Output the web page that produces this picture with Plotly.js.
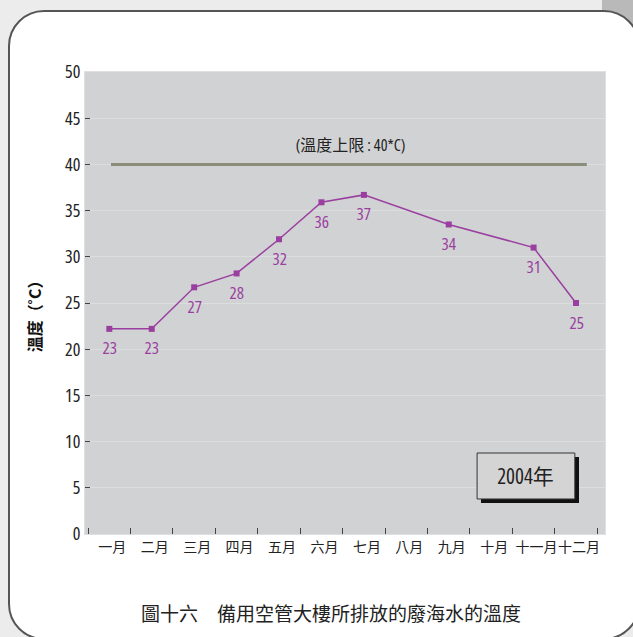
<!DOCTYPE html>
<html>
<head>
<meta charset="utf-8">
<script src="https://cdn.plot.ly/plotly-3.0.1.min.js"></script>
<style>
  html, body { margin: 0; padding: 0; }
  body { width: 633px; height: 637px; overflow: hidden; position: relative; background: #ececec; }
  #strip { position: absolute; left: 602px; top: 0; width: 31px; height: 120px; background: #b9b9b9; }
  #frame { position: absolute; left: 8px; top: 10px; width: 628px; height: 626px; border: 2.5px solid #555; border-radius: 36px; background: #ffffff; }
  #chart { position: absolute; left: 0; top: 0; width: 633px; height: 637px; }
  #chart text { font-stretch: 75%; }
</style>
</head>
<body>
<div id="strip"></div>
<div id="frame"></div>
<div id="chart"></div>
<script>
// ---- data ----
const months = ['一月','二月','三月','四月','五月','六月','七月','八月','九月','十月','十一月','十二月'];
const pointMonths = ['一月','二月','三月','四月','五月','六月','七月','九月','十一月','十二月'];
const temps = [22.2, 22.2, 26.7, 28.2, 31.9, 35.9, 36.7, 33.5, 31.0, 25.0];
const tempLabels = ['23','23','27','28','32','36','37','34','31','25'];
const limitTemp = 40;
const limitText = '(溫度上限 : 40*C)';
const yearText = '2004年';
const yTitle = '溫度（˚C）';
const caption = '圖十六　備用空管大樓所排放的廢海水的溫度';

const narrow = '"Open Sans", "Noto Sans CJK TC", sans-serif';
const cjk = '"Noto Sans CJK TC", sans-serif';
const purple = '#9a3f9f';

const trace = {
  x: pointMonths,
  y: temps,
  type: 'scatter',
  mode: 'lines+markers',
  line: { color: purple, width: 1.5 },
  marker: { symbol: 'square', size: 6, color: purple },
  hoverinfo: 'skip'
};

const annotations = pointMonths.map((m, i) => ({
  x: m, y: temps[i], xref: 'x', yref: 'y',
  text: tempLabels[i], showarrow: false, yshift: -19,
  xanchor: 'center', yanchor: 'middle',
  font: { family: narrow, size: 17, color: purple }
}));

annotations.push({
  x: 0.51, xref: 'paper', y: limitTemp + 2.1, yref: 'y',
  xanchor: 'center', yanchor: 'middle',
  text: limitText, showarrow: false,
  font: { family: narrow, size: 16, color: '#222' }
});
annotations.push({
  x: 0.848, y: 0.1255, xref: 'paper', yref: 'paper',
  xanchor: 'center', yanchor: 'middle',
  text: yearText, showarrow: false,
  font: { family: narrow, size: 21, color: '#222' }
});
annotations.push({
  x: -0.098, y: 0.48, xref: 'paper', yref: 'paper',
  xanchor: 'center', yanchor: 'middle',
  text: '<b>' + yTitle + '</b>', textangle: -90, showarrow: false,
  font: { family: cjk, size: 16, color: '#111' }
});
annotations.push({
  x: 0.473, y: -0.169, xref: 'paper', yref: 'paper',
  xanchor: 'center', yanchor: 'middle',
  text: caption, showarrow: false,
  font: { family: cjk, size: 19, color: '#222' }
});

const shapes = [
  { type: 'line', xref: 'paper', yref: 'y', x0: 0.05, x1: 0.965, y0: limitTemp, y1: limitTemp,
    line: { color: '#8b8c79', width: 3 } },
  { type: 'rect', xref: 'paper', yref: 'paper', x0: 0.7615, x1: 0.950, y0: 0.0671, y1: 0.1667,
    fillcolor: '#111', line: { width: 0 } },
  { type: 'rect', xref: 'paper', yref: 'paper', x0: 0.754, x1: 0.942, y0: 0.0758, y1: 0.1753,
    fillcolor: '#d4d4d4', line: { color: '#333', width: 1 } }
];

const layout = {
  width: 633, height: 637,
  margin: { l: 85, r: 28, t: 72, b: 103 },
  paper_bgcolor: 'rgba(0,0,0,0)',
  plot_bgcolor: '#d1d2d4',
  showlegend: false,
  xaxis: {
    type: 'category',
    categoryorder: 'array', categoryarray: months,
    tickvals: months,
    range: [-0.573, 11.683],
    tickson: 'boundaries',
    tickangle: 0,
    ticks: 'inside', ticklen: 6, tickcolor: '#444', tickwidth: 1,
    showgrid: false, zeroline: false,
    showline: true, linecolor: '#e0e0e0', linewidth: 1, mirror: true,
    tickfont: { family: cjk, size: 14, color: '#222' },
    ticklabelshift: 3,
    fixedrange: true
  },
  yaxis: {
    range: [0, 50], dtick: 5, tick0: 0,
    ticks: 'inside', ticklen: 5, tickcolor: '#444', tickwidth: 1,
    showgrid: true, gridcolor: '#dcdddf', gridwidth: 1,
    zeroline: false,
    showline: true, linecolor: '#e0e0e0', linewidth: 1, mirror: true,
    tickfont: { family: narrow, size: 18, color: '#222' },
    fixedrange: true
  },
  shapes: shapes,
  annotations: annotations
};

Plotly.newPlot('chart', [trace], layout, { displayModeBar: false, staticPlot: true });
</script>
</body>
</html>
